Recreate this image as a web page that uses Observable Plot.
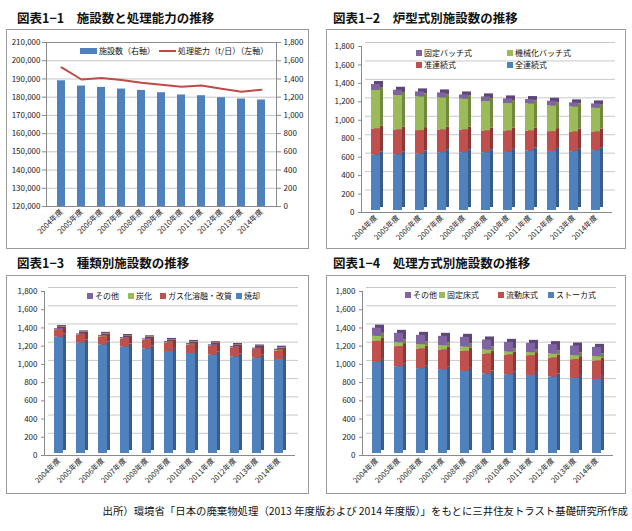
<!DOCTYPE html>
<html><head><meta charset="utf-8">
<script src="https://cdn.jsdelivr.net/npm/d3@7"></script>
<script src="https://cdn.jsdelivr.net/npm/@observablehq/plot@0.6"></script>
<style>
body{margin:0;background:#fff;font-family:"Noto Sans CJK JP","Noto Sans",sans-serif;}
#root{position:relative;width:632px;height:531px;overflow:hidden;background:#fff;}
.title{position:absolute;font-size:12.5px;font-weight:bold;color:#111;white-space:nowrap;line-height:1;}
.frame{position:absolute;border:1px solid #9a9a9a;box-sizing:border-box;}
.plot{position:absolute;}
.leg{position:absolute;font-size:8px;white-space:nowrap;display:flex;align-items:center;line-height:1;color:#111;}
.sw{display:inline-block;width:6px;height:6px;margin-right:2px;}
.cap{position:absolute;right:4px;top:503px;font-size:10.4px;white-space:nowrap;color:#111;}
</style></head>
<body><div id="root"></div>
<script>
// ---------- data ----------
const years = ["2004年度","2005年度","2006年度","2007年度","2008年度","2009年度","2010年度","2011年度","2012年度","2013年度","2014年度"];

// 図表1-1
const facilities = [1380,1322,1307,1289,1274,1249,1224,1216,1194,1180,1169];          // 施設数（右軸）
const capacity   = [196300,189700,190500,189400,187900,186800,185700,186400,184600,183000,184100]; // 処理能力（t/日）（左軸）
const leftTicks  = [120000,130000,140000,150000,160000,170000,180000,190000,200000,210000];
const rightTicks = [0,200,400,600,800,1000,1200,1400,1600,1800];

// 図表1-2 炉型式別
const furnaceNames = ["全連続式","准連続式","機械化バッチ式","固定バッチ式"];
const zenRenzoku   = [601,605,612,627,627,627,630,645,641,638,649];
const junRenzoku   = [283,268,254,246,246,235,232,217,214,213,202];
const kikaiBatch   = [417,374,366,348,334,320,298,294,279,272,258];
const koteiBatch   = [65,57,54,54,46,50,50,47,51,44,47];

// 図表1-3 種類別
const kindNames = ["焼却","ガス化溶融・改質","炭化","その他"];
const shokyaku  = [1277,1214,1192,1170,1148,1120,1098,1079,1060,1046,1032];
const gasYouyu  = [80,85,88,88,93,94,91,99,99,96,94];
const tanka     = [2,2,5,2,5,2,5,2,2,2,5];
const sonota3   = [12,12,12,13,13,14,14,14,14,14,14];

// 図表1-4 処理方式別
const methodNames = ["ストーカ式","流動床式","固定床式","その他"];
const stoker     = [1000,953,931,920,901,873,865,857,840,824,813];
const ryudousho  = [231,220,216,216,220,219,216,217,208,206,202];
const koteisho   = [55,43,48,48,48,44,33,33,44,44,48];
const sonota4    = [90,103,102,102,106,110,106,102,103,106,102];

const countTicks = [0,200,400,600,800,1000,1200,1400,1600,1800];

// ---------- styles ----------
const BLUE="#4F81BD", RED="#C0504D", GREEN="#9BBB59", PURPLE="#8064A2";
const DARK = {[BLUE]:"#385D8A",[RED]:"#8C3836",[GREEN]:"#71893F",[PURPLE]:"#5C4776"};
const FONT = '"Noto Sans CJK JP","Noto Sans",sans-serif';
const root = document.getElementById("root");

function addDiv(cls, css, html){
  const d=document.createElement("div"); d.className=cls; Object.assign(d.style, css);
  if(html!==undefined) d.innerHTML=html; root.appendChild(d); return d;
}
function legendItem(x,y,color,label,line){
  const sw = line
    ? `<span style="display:inline-block;width:17px;height:2px;background:${color};margin-right:2px"></span>`
    : `<span class="sw" style="background:${color};${label==='施設数（右軸）'?'width:17px;height:6px;':''}"></span>`;
  addDiv("leg",{left:x+"px",top:(y-4)+"px"}, sw+label);
}
function place(svg,left,top){
  const w=document.createElement("div"); w.className="plot";
  w.style.left=left+"px"; w.style.top=top+"px"; w.appendChild(svg); root.appendChild(w);
}

// ---------- titles & frames ----------
addDiv("title",{left:"17px",top:"12px"},"図表1−1　施設数と処理能力の推移");
addDiv("title",{left:"333px",top:"12px"},"図表1−2　炉型式別施設数の推移");
addDiv("title",{left:"17px",top:"257px"},"図表1−3　種類別施設数の推移");
addDiv("title",{left:"333px",top:"257px"},"図表1−4　処理方式別施設数の推移");
addDiv("frame",{left:"6px",top:"29px",width:"303px",height:"220px"});
addDiv("frame",{left:"326px",top:"29px",width:"300px",height:"220px"});
addDiv("frame",{left:"6px",top:"275px",width:"303px",height:"219px"});
addDiv("frame",{left:"326px",top:"275px",width:"300px",height:"219px"});

// ---------- 図表1-1 ----------
const yL=[leftTicks[0], leftTicks[leftTicks.length-1]];
const yR=[rightTicks[0], rightTicks[rightTicks.length-1]];
const toL = v => yL[0] + (v-yR[0])/(yR[1]-yR[0])*(yL[1]-yL[0]);
const fromL = v => yR[0] + (v-yL[0])/(yL[1]-yL[0])*(yR[1]-yR[0]);
const d1 = years.map((y,i)=>({year:y, fac:facilities[i], cap:capacity[i]}));
const p1 = Plot.plot({
  width:302, height:219, marginLeft:40, marginRight:32, marginTop:13, marginBottom:42,
  style:{fontFamily:FONT, fontSize:"8px", color:"#222", background:"transparent"},
  x:{type:"band", domain:years, paddingInner:0.62, paddingOuter:0.31, label:null},
  y:{domain:yL, label:null},
  marks:[
    Plot.gridY(leftTicks,{stroke:"#c4c4c4", strokeOpacity:1}),
    Plot.barY(d1,{x:"year", y1:()=>yL[0], y2:d=>toL(d.fac), fill:BLUE}),
    Plot.line(d1,{x:"year", y:"cap", stroke:"#BE4B48", strokeWidth:2}),
    Plot.frame({stroke:"#8a8a8a"}),
    Plot.axisY(leftTicks,{anchor:"left", tickSize:4, tickPadding:2, tickFormat:d3.format(","), stroke:"#8a8a8a"}),
    Plot.axisY(rightTicks.map(toL),{anchor:"right", tickSize:4, tickPadding:3, tickFormat:d=>d3.format(",")(Math.round(fromL(d))), stroke:"#8a8a8a"}),
    Plot.axisX({tickRotate:-45, tickSize:0, tickPadding:4, fontSize:7.5})
  ]
});
place(p1,6,29);
legendItem(80,51,BLUE,"施設数（右軸）");
legendItem(159,51,"#BE4B48","処理能力（t/日）（左軸）",true);

// ---------- 3D stacked helper ----------
function stacked3D(seriesArrays, colors, opts){
  const long=[];
  years.forEach((y,i)=>seriesArrays.forEach((arr,k)=>long.push({year:y, k, value:arr[i], color:colors[k]})));
  return Plot.plot({
    width:opts.w, height:opts.h, marginLeft:opts.ml, marginRight:opts.mr, marginTop:opts.mt, marginBottom:opts.mb,
    style:{fontFamily:FONT, fontSize:"8px", color:"#222", background:"transparent"},
    x:{type:"band", domain:years, paddingInner:0.58, paddingOuter:0.44, label:null},
    y:{domain:[0,1800], label:null},
    marks:[
      Plot.gridY(countTicks.slice(1),{stroke:"#c8c8c8", strokeOpacity:1, dy:-4, dx:4}),
      Plot.barY(long,{x:"year", y:"value", z:"k", fill:d=>DARK[d.color], dx:3, dy:-5}),
      Plot.barY(long,{x:"year", y:"value", z:"k", fill:"color", dy:-2}),
      Plot.frame({anchor:"left", stroke:"#8a8a8a"}),
      Plot.frame({anchor:"bottom", stroke:"#8a8a8a"}),
      Plot.axisY(countTicks,{anchor:"left", tickSize:3, tickPadding:4, tickFormat:d3.format(","), stroke:"#8a8a8a"}),
      Plot.axisX({tickRotate:-45, tickSize:0, tickPadding:4, fontSize:7.5})
    ]
  });
}

// ---------- 図表1-2 ----------
place(stacked3D([zenRenzoku,junRenzoku,kikaiBatch,koteiBatch],[BLUE,RED,GREEN,PURPLE],
  {w:299,h:219,ml:35,mr:14,mt:17,mb:36}),326,29);
legendItem(416,53,PURPLE,furnaceNames[3]);
legendItem(507,53,GREEN,furnaceNames[2]);
legendItem(416,65,RED,furnaceNames[1]);
legendItem(507,65,BLUE,furnaceNames[0]);

// ---------- 図表1-3 ----------
place(stacked3D([shokyaku,gasYouyu,tanka,sonota3],[BLUE,RED,GREEN,PURPLE],
  {w:302,h:218,ml:38,mr:14,mt:16,mb:38}),6,275);
legendItem(87,296,PURPLE,kindNames[3]);
legendItem(128,296,GREEN,kindNames[2]);
legendItem(160,296,RED,kindNames[1]);
legendItem(236,296,BLUE,kindNames[0]);

// ---------- 図表1-4 ----------
place(stacked3D([stoker,ryudousho,koteisho,sonota4],[BLUE,RED,GREEN,PURPLE],
  {w:299,h:218,ml:36,mr:13,mt:16,mb:38}),326,275);
legendItem(405,295,PURPLE,methodNames[3]);
legendItem(439,295,GREEN,methodNames[2]);
legendItem(498,295,RED,methodNames[1]);
legendItem(548,295,BLUE,methodNames[0]);

addDiv("cap",{},"出所）環境省「日本の廃棄物処理（2013 年度版および 2014 年度版）」をもとに三井住友トラスト基礎研究所作成");
</script></body></html>
